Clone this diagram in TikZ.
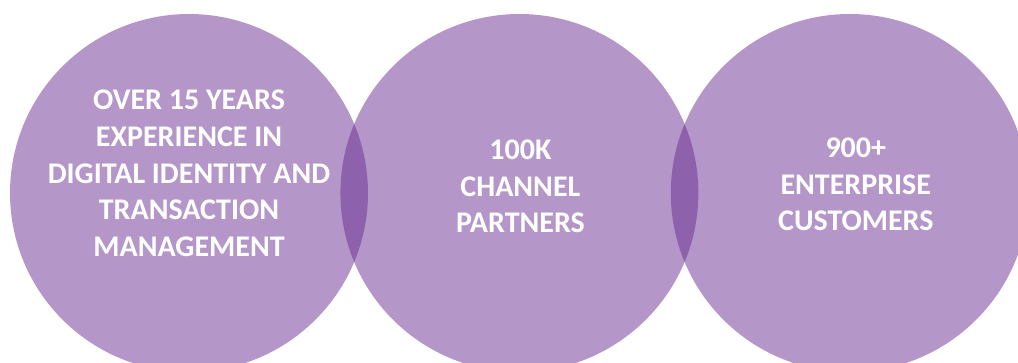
\documentclass[tikz,border=0pt]{standalone}
\usepackage{fontspec}
\setmainfont{Carlito}
\usetikzlibrary{positioning}
\definecolor{vennpurple}{RGB}{99,38,140}
\tikzset{
bubble/.style={
  circle,
  minimum size=358pt,
  inner sep=0pt,
  fill=vennpurple,
  fill opacity=0.48
  }
}
\tikzset{
caption/.style={
  align=center,
  text=white,
  inner sep=0pt,
  font=\bfseries\fontsize{30}{36.7}\selectfont
  }
}
\begin{document}
\begin{tikzpicture}[x=1pt,y=-1pt]
\clip (0,0) rectangle (1018,362);

\node[bubble] (circ1) at (189,193) {};
\node[bubble,right=-28pt of circ1] (circ2) {};
\node[bubble,right=-28pt of circ2] (circ3) {};

\node[caption] (txt1) at ([yshift=19.5pt]circ1.center)
  {OVER 15 YEARS\\ EXPERIENCE IN\\ DIGITAL IDENTITY AND\\ TRANSACTION\\ MANAGEMENT};
\node[caption] (txt2) at ([xshift=1pt,yshift=6.5pt]circ2.center)
  {100K\\ CHANNEL\\ PARTNERS};
\node[caption] (txt3) at ([xshift=6pt,yshift=8.5pt]circ3.center)
  {900+\\ ENTERPRISE\\ CUSTOMERS};

\end{tikzpicture}
\end{document}
